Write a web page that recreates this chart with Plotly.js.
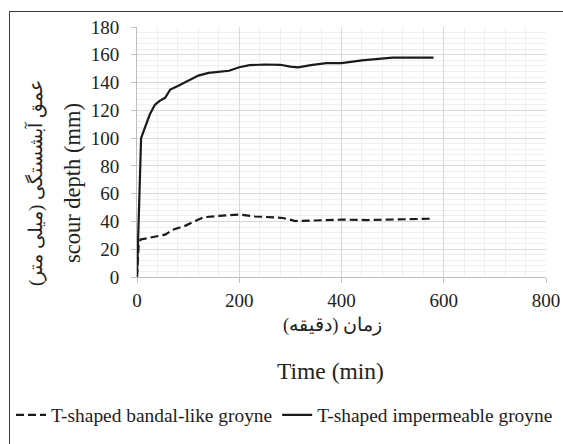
<!DOCTYPE html>
<html>
<head>
<meta charset="utf-8">
<script src="https://cdn.plot.ly/plotly-3.0.1.min.js"></script>
<style>
html,body{margin:0;padding:0;background:#fff;}
#wrap{position:relative;width:563px;height:444px;overflow:hidden;}
#frame{position:absolute;left:9px;top:11px;width:600px;height:500px;border-top:1.5px solid #3a3a3a;border-left:1.5px solid #3a3a3a;pointer-events:none;z-index:5;}
#chart{position:absolute;left:0;top:0;width:563px;height:444px;}
</style>
</head>
<body>
<div id="wrap"><div id="chart"></div><div id="frame"></div></div>
<script>
// Time (min) and scour depth (mm)
const timeImpermeable = [0, 2, 5, 8, 13, 25, 35, 45, 55, 65, 80, 100, 120, 140, 160, 180, 200, 220, 250, 280, 300, 315, 340, 370, 400, 440, 500, 540, 580];
const depthImpermeable = [0, 22, 60, 100, 105, 117, 124, 127, 129, 135, 137.5, 141.5, 145, 147, 148, 148.5, 151, 152.5, 153, 152.8, 151.5, 151, 152.5, 154, 154, 156, 158, 158, 158];
const timeBandal = [0, 3, 7, 20, 40, 55, 70, 95, 115, 130, 160, 200, 230, 270, 285, 310, 340, 370, 400, 450, 500, 540, 580];
const depthBandal = [0, 22, 27, 28, 29, 30.5, 34, 37, 40.5, 43, 44, 45, 43.7, 43, 42.5, 40.3, 40.5, 40.8, 41.3, 41, 41.2, 41.5, 42];
const seriesNames = ['T-shaped bandal-like groyne', 'T-shaped impermeable groyne'];
const xTickVals = [0, 200, 400, 600, 800];
const yTickVals = [0, 20, 40, 60, 80, 100, 120, 140, 160, 180];
const yTitleFa = 'عمق آبشستگی (میلی متر)';
const yTitleEn = 'scour depth (mm)';
const xTitleFa = 'زمان (دقیقه)';
const xTitleEn = 'Time (min)';

const serif = 'Liberation Serif';
const tnr = 'Times New Roman';

const traces = [
  {x: timeBandal, y: depthBandal, name: seriesNames[0], mode: 'lines',
   line: {color: '#1a1a1a', width: 2.2, dash: '8px,4px'}},
  {x: timeImpermeable, y: depthImpermeable, name: seriesNames[1], mode: 'lines',
   line: {color: '#1a1a1a', width: 2.2}}
];

const layout = {
  width: 563, height: 444,
  margin: {l: 137, r: 17, t: 27, b: 167, autoexpand: false},
  paper_bgcolor: '#ffffff', plot_bgcolor: '#ffffff',
  font: {family: serif, color: '#222', size: 19},
  showlegend: true,
  legend: {orientation: 'h', x: -0.308, xref: 'paper', y: -0.553, yref: 'paper',
           xanchor: 'left', yanchor: 'middle', itemgap: 0,
           font: {family: serif, size: 19.4, color: '#222'}, bgcolor: 'rgba(0,0,0,0)'},
  xaxis: {range: [0, 800], tickvals: xTickVals, ticktext: xTickVals.map(String),
          showgrid: true, gridcolor: '#d9d9d9', gridwidth: 1,
          minor: {dtick: 40, showgrid: true, gridcolor: '#efefef', gridwidth: 1},
          showline: true, linecolor: '#bfbfbf', linewidth: 1,
          ticks: 'outside', ticklen: 5, tickcolor: '#bfbfbf', ticklabelstandoff: 1,
          zeroline: false, tickfont: {family: serif, size: 19, color: '#222'}, fixedrange: true},
  yaxis: {range: [0, 180], tickvals: yTickVals, ticktext: yTickVals.map(String),
          showgrid: true, gridcolor: '#d9d9d9', gridwidth: 1,
          minor: {dtick: 4, showgrid: true, gridcolor: '#efefef', gridwidth: 1},
          showline: true, linecolor: '#bfbfbf', linewidth: 1,
          ticks: 'outside', ticklen: 5, tickcolor: '#bfbfbf', ticklabelstandoff: 8,
          zeroline: false, tickfont: {family: serif, size: 19, color: '#222'}, fixedrange: true},
  annotations: [
    {text: yTitleEn, xref: 'paper', yref: 'paper', x: 0, y: 0.376, xshift: -65,
     xanchor: 'center', yanchor: 'middle', textangle: -90, showarrow: false,
     font: {family: tnr, size: 22.5, color: '#222'}},
    {text: yTitleFa, xref: 'paper', yref: 'paper', x: 0, y: 0.376, xshift: -102,
     xanchor: 'center', yanchor: 'middle', textangle: -90, showarrow: false,
     font: {family: tnr, size: 19, color: '#222'}},
    {text: xTitleFa, xref: 'paper', yref: 'paper', x: 0.479, y: -0.193,
     xanchor: 'center', yanchor: 'middle', showarrow: false,
     font: {family: tnr, size: 18.5, color: '#222'}},
    {text: xTitleEn, xref: 'paper', yref: 'paper', x: 0.474, y: -0.374,
     xanchor: 'center', yanchor: 'middle', showarrow: false,
     font: {family: tnr, size: 23.5, color: '#222'}}
  ]
};

Plotly.newPlot('chart', traces, layout, {displayModeBar: false, staticPlot: true});
</script>
</body>
</html>
